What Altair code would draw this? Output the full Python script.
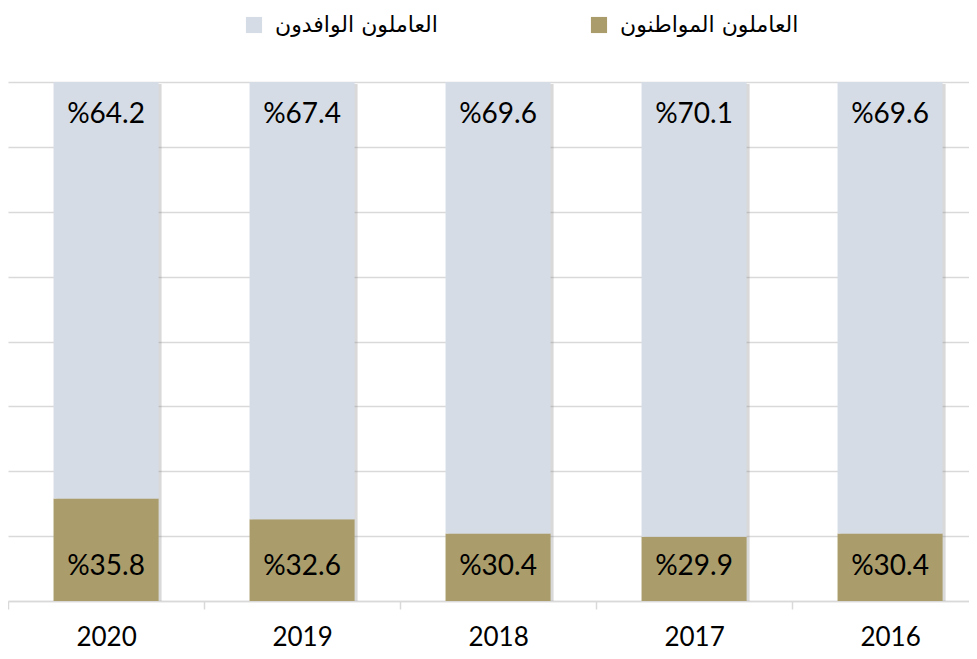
import altair as alt
import pandas as pd

years = ["2020", "2019", "2018", "2017", "2016"]
local_share = [35.8, 32.6, 30.4, 29.9, 30.4]
expat_share = [64.2, 67.4, 69.6, 70.1, 69.6]
series_names = ["العاملون الوافدون", "العاملون المواطنون"]  # expat, local
series_colors = ["#D6DCE5", "#AA9D6B"]
grid_values = [20, 30, 40, 50, 60, 70, 80, 90, 100]

rows = []
for i, yr in enumerate(years):
    rows.append({"year": yr, "group": series_names[1], "value": local_share[i],
                 "order": 0, "label": f"%{local_share[i]:.1f}"})
    rows.append({"year": yr, "group": series_names[0], "value": expat_share[i],
                 "order": 1, "label": f"%{expat_share[i]:.1f}"})
df = pd.DataFrame(rows)

x = alt.X("year:N", sort=years, title=None,
          scale=alt.Scale(paddingInner=0.464, paddingOuter=0.1835, align=0.633),
          axis=alt.Axis(labelAngle=0, labelFont="Lato", labelFontSize=26, labelColor="#000000",
                        domainColor="#D9D9D9", domainWidth=1.5, tickColor="#D9D9D9",
                        tickSize=8, tickWidth=1.5, tickOffset=-98, labelOffset=98,
                        tickExtra=False, labelPadding=15, grid=False))
yscale = alt.Scale(domain=[20, 100], nice=False, zero=False)

base = alt.Chart(df)

shadow = base.mark_bar(clip=True, color="#808080", opacity=0.3, xOffset=3, yOffset=2).encode(
    x=x,
    y=alt.Y("sum(value):Q", scale=yscale, title=None,
            axis=alt.Axis(values=grid_values, labels=False, ticks=False, domain=False,
                          grid=True, gridColor="#D9D9D9", gridWidth=1.5)),
)

bars = base.mark_bar(clip=True).encode(
    x=x,
    y=alt.Y("value:Q", stack="zero", scale=yscale, title=None),
    color=alt.Color("group:N", scale=alt.Scale(domain=series_names, range=series_colors),
                    legend=alt.Legend(title=None, orient="none", legendX=235, legendY=-68,
                                      direction="horizontal", symbolType="square",
                                      symbolSize=260, symbolStrokeWidth=0, symbolOpacity=1,
                                      labelFont="DejaVu Sans", labelFontSize=22,
                                      labelLimit=400, labelColor="#000000", labelOffset=10,
                                      columnPadding=150)),
    order=alt.Order("order:Q"),
)

top_labels = base.transform_filter(alt.datum.order == 1).mark_text(
    font="Lato", fontSize=28, color="#000000", baseline="middle", dy=33
).encode(x=x, y=alt.datum(100), text="label:N")

bottom_labels = base.transform_filter(alt.datum.order == 0).mark_text(
    font="Lato", fontSize=28, color="#000000", baseline="middle", dy=-34
).encode(x=x, y=alt.datum(20), text="label:N")

chart = alt.layer(shadow, bars, top_labels, bottom_labels).properties(
    width=961, height=519,
    autosize=alt.AutoSizeParams(type="none"),
    padding={"left": 0, "right": 0, "top": 74, "bottom": 50},
    background="white",
).configure_view(stroke=None)

chart.save("out.html", embed_options={"renderer": "svg", "actions": False})
